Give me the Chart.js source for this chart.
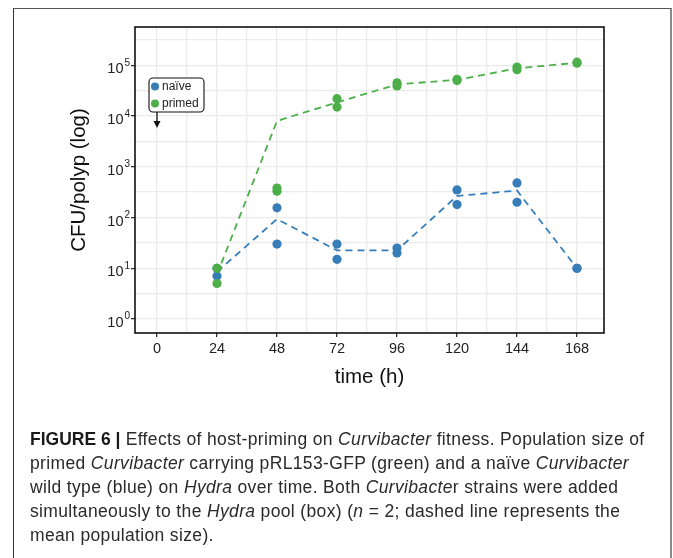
<!DOCTYPE html>
<html>
<head>
<meta charset="utf-8">
<script src="https://cdn.jsdelivr.net/npm/chart.js@4.4.1/dist/chart.umd.min.js"></script>
<style>
  body { margin: 0; background: #fff; width: 673px; height: 558px; overflow: hidden; position: relative; }
  #frame { position: absolute; left: 13px; top: 8px; width: 659px; height: 560px; box-sizing: border-box;
           border-left: 1.5px solid #333; border-top: 1px solid #555; border-right: 2px solid #8a8a8a; }
  #caption { position: absolute; left: 30px; top: 427px; font-family: "Liberation Sans", Arial, sans-serif;
             font-size: 17.5px; letter-spacing: 0.35px; line-height: 24px; color: #2a2a2a; white-space: nowrap; }
  #caption b { font-weight: 700; color: #1a1a1a; letter-spacing: 0; }
</style>
</head>
<body>
<div id="frame"></div>
<canvas id="fitnessChart" width="673" height="400"></canvas>
<div id="caption">
  <b>FIGURE 6 |</b> Effects of host-priming on <i>Curvibacter</i> fitness. Population size of<br>
  primed <i>Curvibacter</i> carrying pRL153-GFP (green) and a naïve <i>Curvibacter</i><br>
  wild type (blue) on <i>Hydra</i> over time. Both <i>Curvibacte</i>r strains were added<br>
  simultaneously to the <i>Hydra</i> pool (box) (<i>n</i> = 2; dashed line represents the<br>
  mean population size).
</div>
<script>
// sampling times (h)
const hours = [24, 48, 72, 96, 120, 144, 168];

// CFU per polyp, two replicates each
const naiveRep1 = [7, 155, 30, 25, 350, 480, 10];
const naiveRep2 = [10, 30, 15, 20, 180, 200, 10];
const primedRep1 = [10, 380, 22000, 45000, 53000, 92000, 115000];
const primedRep2 = [5, 330, 15000, 39000, 50000, 82000, 110000];

// dashed mean lines
const naiveMean = [8.5, 93, 22.5, 22.5, 265, 340, 10];
const primedMean = [7.5, 8000, 18500, 42000, 51500, 87000, 112000];

// axes
const xTickLabels = [0, 24, 48, 72, 96, 120, 144, 168];
const xGrid = [0, 12, 24, 36, 48, 60, 72, 84, 96, 108, 120, 132, 144, 156, 168];
const yTickExponents = [0, 1, 2, 3, 4, 5];
const yGridExponents = [0, 0.5, 1, 1.5, 2, 2.5, 3, 3.5, 4, 4.5, 5, 5.5];

const BLUE = "#377EB8";
const GREEN = "#4DAF4A";
const FONT = "'Liberation Sans', Arial, sans-serif";

function pts(values) {
    return hours.map((h, i) => ({ x: h, y: values[i] }));
}

function isDecade(v) {
    const e = Math.log10(v);
    return Math.abs(e - Math.round(e)) < 1e-6 && yTickExponents.includes(Math.round(e));
}

// black box round the panel, 10^n labels, and the little legend box with the arrow
const panelExtras = {
    id: "panelExtras",
    afterDraw(chart) {
        const { ctx, chartArea: a, scales: { x, y } } = chart;
        ctx.save();
        ctx.strokeStyle = "#111";
        ctx.lineWidth = 1.6;
        ctx.strokeRect(a.left, a.top, a.right - a.left, a.bottom - a.top);

        // y tick labels with a real superscript
        ctx.fillStyle = "#222";
        ctx.textBaseline = "alphabetic";
        yTickExponents.forEach(e => {
            const py = y.getPixelForValue(Math.pow(10, e));
            ctx.font = "10px " + FONT;
            ctx.textAlign = "right";
            ctx.fillText(String(e), a.left - 5, py + 0.5);
            ctx.font = "14.5px " + FONT;
            ctx.fillText("10", a.left - 11.5, py + 8);
        });
        ctx.textAlign = "left";

        const x0 = x.getPixelForValue(0);
        const top = y.getPixelForValue(Math.pow(10, 4.75));
        const bottom = y.getPixelForValue(Math.pow(10, 4.08));
        const left = x0 - 8;
        const w = 55;

        ctx.beginPath();
        ctx.roundRect(left, top, w, bottom - top, 4);
        ctx.fillStyle = "#fff";
        ctx.fill();
        ctx.lineWidth = 1.1;
        ctx.strokeStyle = "#111";
        ctx.stroke();

        const rows = [["naïve", BLUE], ["primed", GREEN]];
        ctx.font = "12px " + FONT;
        ctx.textBaseline = "middle";
        rows.forEach(([label, col], i) => {
            const cy = top + 8.5 + i * 17;
            ctx.beginPath();
            ctx.arc(x0 - 2, cy, 4, 0, Math.PI * 2);
            ctx.fillStyle = col;
            ctx.fill();
            ctx.fillStyle = "#222";
            ctx.fillText(label, x0 + 5, cy + 0.5);
        });

        // arrow down from the box
        ctx.beginPath();
        ctx.moveTo(x0, bottom);
        ctx.lineTo(x0, bottom + 10);
        ctx.lineWidth = 1.3;
        ctx.stroke();
        ctx.beginPath();
        ctx.moveTo(x0 - 3.5, bottom + 9);
        ctx.lineTo(x0 + 3.5, bottom + 9);
        ctx.lineTo(x0, bottom + 16);
        ctx.closePath();
        ctx.fillStyle = "#111";
        ctx.fill();
        ctx.restore();
    }
};

Chart.defaults.font.family = FONT;
Chart.defaults.color = "#222";

const ctx = document.getElementById("fitnessChart").getContext("2d");

new Chart(ctx, {
    type: "scatter",
    data: {
        datasets: [
            { label: "primed", data: pts(primedRep1), backgroundColor: GREEN, borderWidth: 0, pointRadius: 4.6, order: 0 },
            { label: "primed", data: pts(primedRep2), backgroundColor: GREEN, borderWidth: 0, pointRadius: 4.6, order: 0 },
            { label: "naïve", data: pts(naiveRep1), backgroundColor: BLUE, borderWidth: 0, pointRadius: 4.6, order: 1 },
            { label: "naïve", data: pts(naiveRep2), backgroundColor: BLUE, borderWidth: 0, pointRadius: 4.6, order: 1 },
            { label: "primed mean", data: pts(primedMean), showLine: true, borderColor: GREEN, borderWidth: 1.8,
              borderDash: [7, 5], pointRadius: 0, order: 2 },
            { label: "naïve mean", data: pts(naiveMean), showLine: true, borderColor: BLUE, borderWidth: 1.8,
              borderDash: [7, 5], pointRadius: 0, order: 3 }
        ]
    },
    options: {
        responsive: false,
        animation: false,
        devicePixelRatio: 1,
        layout: { padding: { left: 67, top: 27, right: 69, bottom: 10 } },
        plugins: { legend: { display: false }, tooltip: { enabled: false } },
        scales: {
            x: {
                type: "linear",
                min: -8.8,
                max: 178.8,
                afterBuildTicks: (scale) => { scale.ticks = xGrid.map(v => ({ value: v })); },
                afterFit: (scale) => { scale.height = 57; },
                ticks: {
                    autoSkip: false,
                    maxRotation: 0,
                    padding: 3,
                    font: { size: 14.5 },
                    callback: (v) => xTickLabels.includes(v) ? String(v) : ""
                },
                grid: {
                    color: "#ebebeb",
                    lineWidth: 1.3,
                    tickLength: 4,
                    tickWidth: 1.2,
                    tickColor: (c) => xTickLabels.includes(c.tick.value) ? "#222" : "rgba(0,0,0,0)"
                },
                border: { display: false },
                title: { display: true, text: "time (h)", font: { size: 20.5 }, padding: 0, color: "#111" }
            },
            y: {
                type: "logarithmic",
                min: Math.pow(10, -0.276),
                max: Math.pow(10, 5.754),
                afterBuildTicks: (scale) => { scale.ticks = yGridExponents.map(e => ({ value: Math.pow(10, e) })); },
                afterFit: (scale) => { scale.width = 68; },
                ticks: {
                    autoSkip: false,
                    callback: () => ""
                },
                grid: {
                    color: "#ebebeb",
                    lineWidth: 1.3,
                    tickLength: 4,
                    tickWidth: 1.2,
                    tickColor: (c) => isDecade(c.tick.value) ? "#222" : "rgba(0,0,0,0)"
                },
                border: { display: false },
                title: { display: true, text: "CFU/polyp (log)", font: { size: 20.5 }, padding: 0, color: "#111" }
            }
        }
    },
    plugins: [panelExtras]
});
</script>
</body>
</html>
